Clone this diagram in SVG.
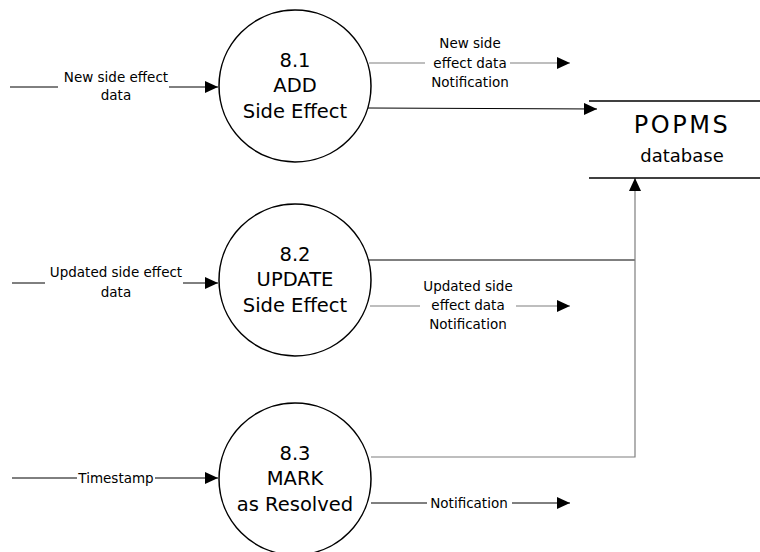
<svg xmlns="http://www.w3.org/2000/svg" width="760" height="552" viewBox="0 0 760 552">
<defs>
<marker id="arr" markerUnits="userSpaceOnUse" markerWidth="14" markerHeight="12" refX="13" refY="6" orient="auto" viewBox="0 0 14 12">
<path d="M0,0 L13,6 L0,12 z" fill="#000"/>
</marker>
<style>
.proc{fill:#fff;stroke:#000;stroke-width:1.5}
.ln{fill:none;stroke:#000;stroke-width:1}
.gl{fill:none;stroke:#7f7f7f;stroke-width:1.2}
.t{font-family:"DejaVu Sans","Liberation Sans",sans-serif;fill:#000;text-anchor:middle}
.s{font-size:13.5px}
.b{font-size:19.5px}
</style>
</defs>
<rect width="760" height="552" fill="#fff"/>
<g id="connectors">
<line class="ln" x1="10" y1="87" x2="58" y2="87"/>
<line class="ln" x1="169" y1="87" x2="218" y2="87" marker-end="url(#arr)"/>
<text class="t s" x="116" y="82">New side effect</text>
<text class="t s" x="116" y="100">data</text>

<line class="ln" x1="12" y1="283" x2="45" y2="283"/>
<line class="ln" x1="183" y1="283" x2="218" y2="283" marker-end="url(#arr)"/>
<text class="t s" x="116" y="277">Updated side effect</text>
<text class="t s" x="116" y="297">data</text>

<line class="ln" x1="12" y1="478" x2="77" y2="478"/>
<line class="ln" x1="155" y1="478" x2="218" y2="478" marker-end="url(#arr)"/>
<text class="t s" x="116" y="483">Timestamp</text>

<line class="gl" x1="369" y1="63" x2="425" y2="63"/>
<line class="gl" x1="510" y1="63" x2="570" y2="63" marker-end="url(#arr)"/>
<text class="t s" x="470" y="48">New side</text>
<text class="t s" x="470" y="67.5">effect data</text>
<text class="t s" x="470" y="87">Notification</text>
<line class="ln" x1="368" y1="108" x2="597" y2="109" marker-end="url(#arr)"/>

<line class="ln" x1="368" y1="260" x2="635" y2="260"/>
<line class="gl" x1="370" y1="306" x2="420" y2="306"/>
<line class="gl" x1="516" y1="306" x2="570" y2="306" marker-end="url(#arr)"/>
<text class="t s" x="468" y="291">Updated side</text>
<text class="t s" x="468" y="310">effect data</text>
<text class="t s" x="468" y="329">Notification</text>

<polyline class="gl" points="371,457 635,457 635,178" marker-end="url(#arr)"/>
<line class="ln" x1="371" y1="503" x2="427" y2="503"/>
<line class="ln" x1="512" y1="503" x2="570" y2="503" marker-end="url(#arr)"/>
<text class="t s" x="469" y="508">Notification</text>
</g>
<g id="p81">
<circle class="proc" cx="295" cy="86" r="76"/>
<text class="t b" x="295" y="67">8.1</text>
<text class="t b" x="295" y="92">ADD</text>
<text class="t b" x="295" y="118">Side Effect</text>
</g>
<g id="p82">
<circle class="proc" cx="295" cy="280" r="76"/>
<text class="t b" x="295" y="261">8.2</text>
<text class="t b" x="295" y="286">UPDATE</text>
<text class="t b" x="295" y="312">Side Effect</text>
</g>
<g id="p83">
<circle class="proc" cx="295" cy="479" r="76"/>
<text class="t b" x="295" y="460">8.3</text>
<text class="t b" x="295" y="485">MARK</text>
<text class="t b" x="295" y="511">as Resolved</text>
</g>
<g id="db">
<line class="ln" x1="589" y1="101" x2="760" y2="101" style="stroke-width:1.5"/>
<line class="ln" x1="589" y1="178" x2="760" y2="178" style="stroke-width:1.5"/>
<text class="t" x="682" y="133" style="font-size:24px;letter-spacing:2.5px">POPMS</text>
<text class="t" x="682" y="162" style="font-size:18px">database</text>
</g>
</svg>
